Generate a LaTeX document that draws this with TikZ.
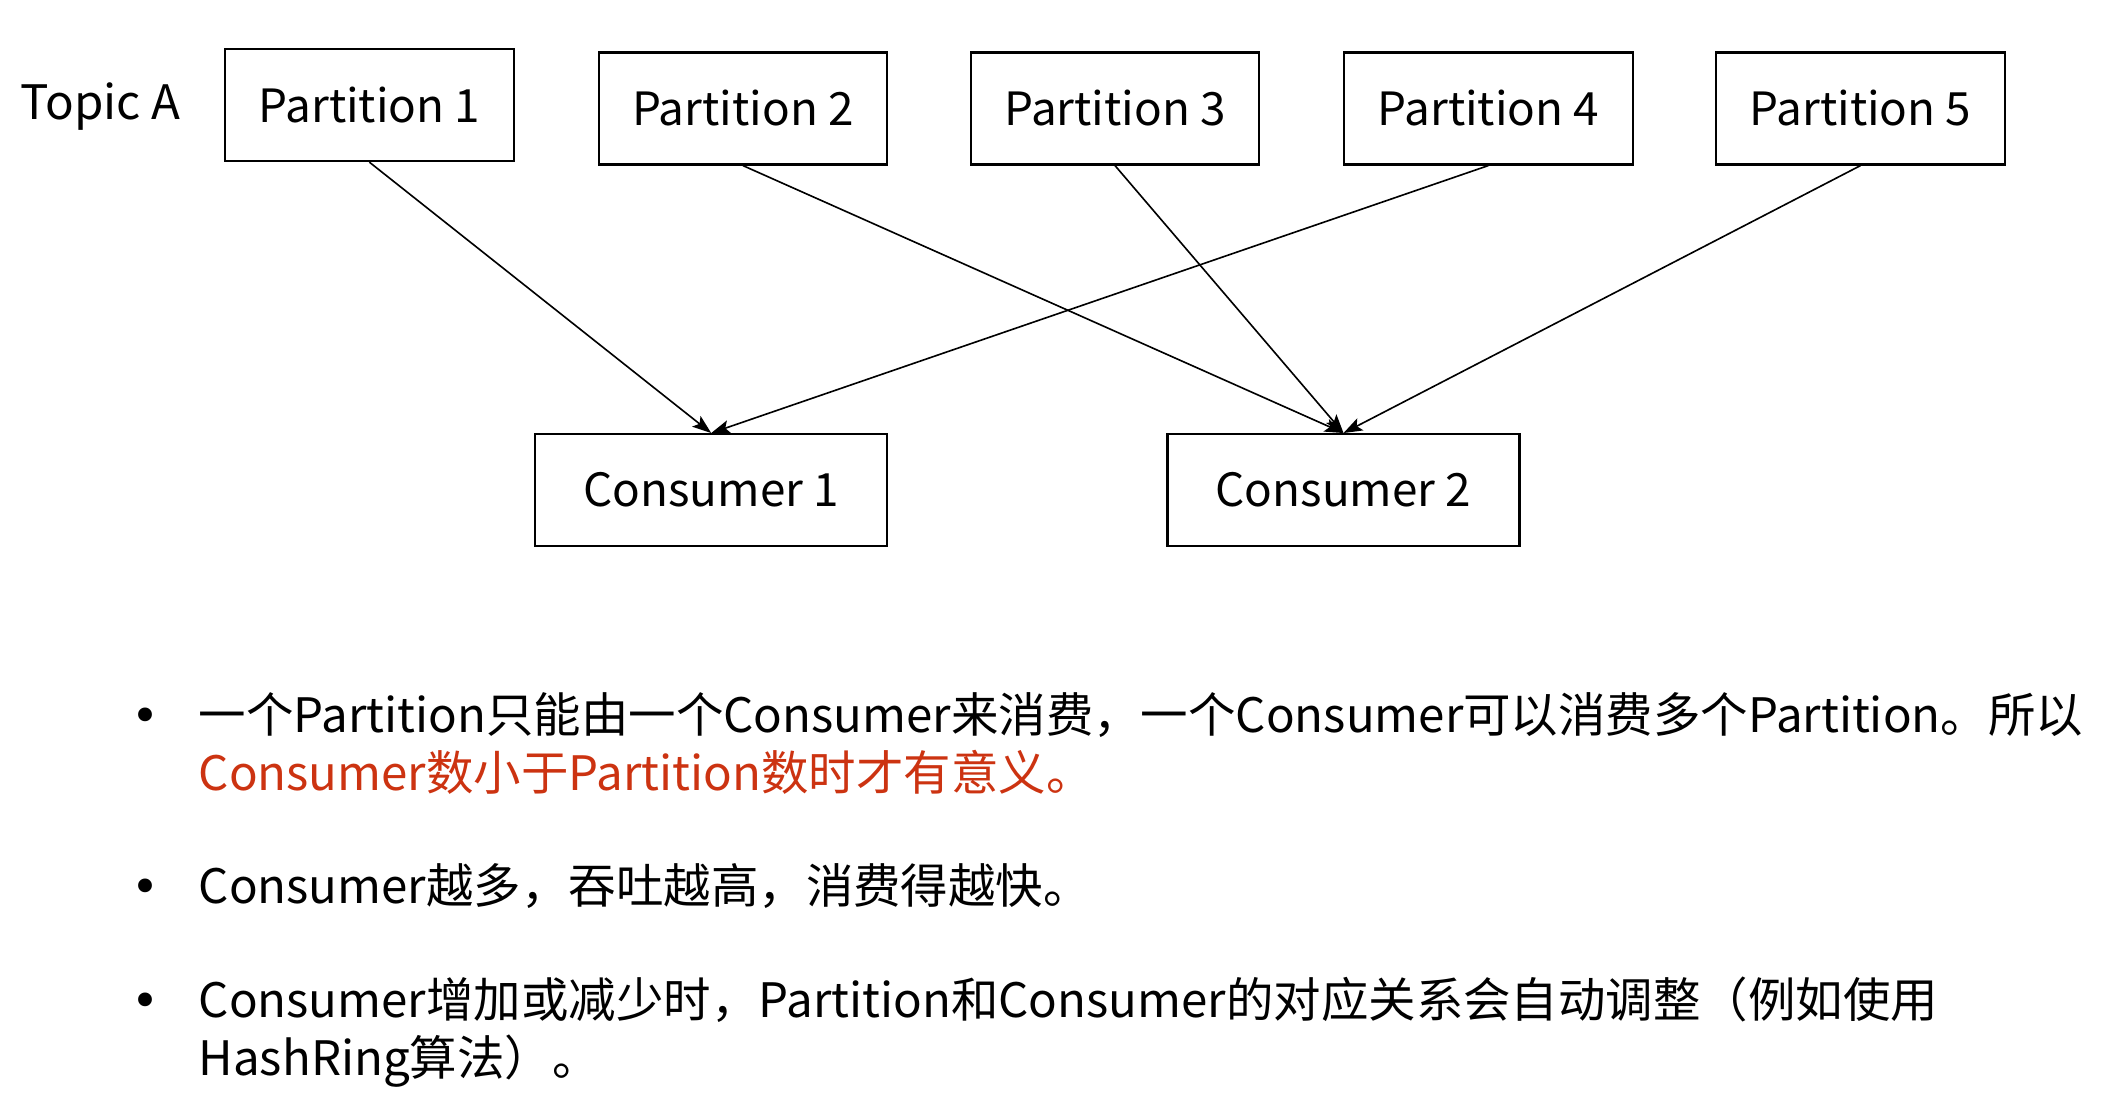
\documentclass[tikz,border=0pt]{standalone}
\usepackage{fontspec}
\setmainfont{Noto Sans CJK SC}
\newfontfamily\dotfont{DejaVu Sans}
\usetikzlibrary{arrows.meta}
\definecolor{notered}{RGB}{204,51,17}

\begin{document}
\begin{tikzpicture}[x=0.5pt, y=-0.5pt,
    part/.style={draw, line width=0.8pt, minimum width=107pt, minimum height=41.5pt, inner sep=0pt, font=\fontsize{17}{20}\selectfont},
    cons/.style={part, minimum width=130.5pt},
    link/.style={-{Stealth[length=7pt, width=5pt, inset=1.5pt]}, line width=0.6pt},
    note/.style={anchor=base west, inner sep=0pt, font=\fontsize{17.6}{21}\selectfont},
    dot/.style={anchor=base, inner sep=0pt, font=\fontsize{17.6}{21}\dotfont}]
    \useasboundingbox (0,0) rectangle (1568,823);
    \node[font=\fontsize{17.6}{20}\selectfont] (topic) at (74.5,79) {Topic A};
    \node[part] (p1) at (274,78) {Partition 1};
    \node[part] (p2) at (551,80.5) {Partition 2};
    \node[part] (p3) at (827,80.5) {Partition 3};
    \node[part] (p4) at (1104,80.5) {Partition 4};
    \node[part] (p5) at (1380,80.5) {Partition 5};
    \node[cons] (c1) at (527.5,363.5) {Consumer 1};
    \node[cons] (c2) at (996.5,363.5) {Consumer 2};
    \draw[link] (p1.south) -- (c1.north);
    \draw[link] (p4.south) -- (c1.north);
    \draw[link] (p2.south) -- (c2.north);
    \draw[link] (p3.south) -- (c2.north);
    \draw[link] (p5.south) -- (c2.north);
    % notes below the diagram
    \node[dot] (b1) at (108,543) {•};
    \node[note] (t1) at (147,543) {一个Partition只能由一个Consumer来消费，一个Consumer可以消费多个Partition。所以};
    \node[note, text=notered] (t1b) at (147,586) {Consumer数小于Partition数时才有意义。};
    \node[dot] (b2) at (108,670) {•};
    \node[note] (t2) at (147,670) {Consumer越多，吞吐越高，消费得越快。};
    \node[dot] (b3) at (108,755) {•};
    \node[note] (t3) at (147,755) {Consumer增加或减少时，Partition和Consumer的对应关系会自动调整（例如使用};
    \node[note] (t3b) at (147,798) {HashRing算法）。};
\end{tikzpicture}
\end{document}
